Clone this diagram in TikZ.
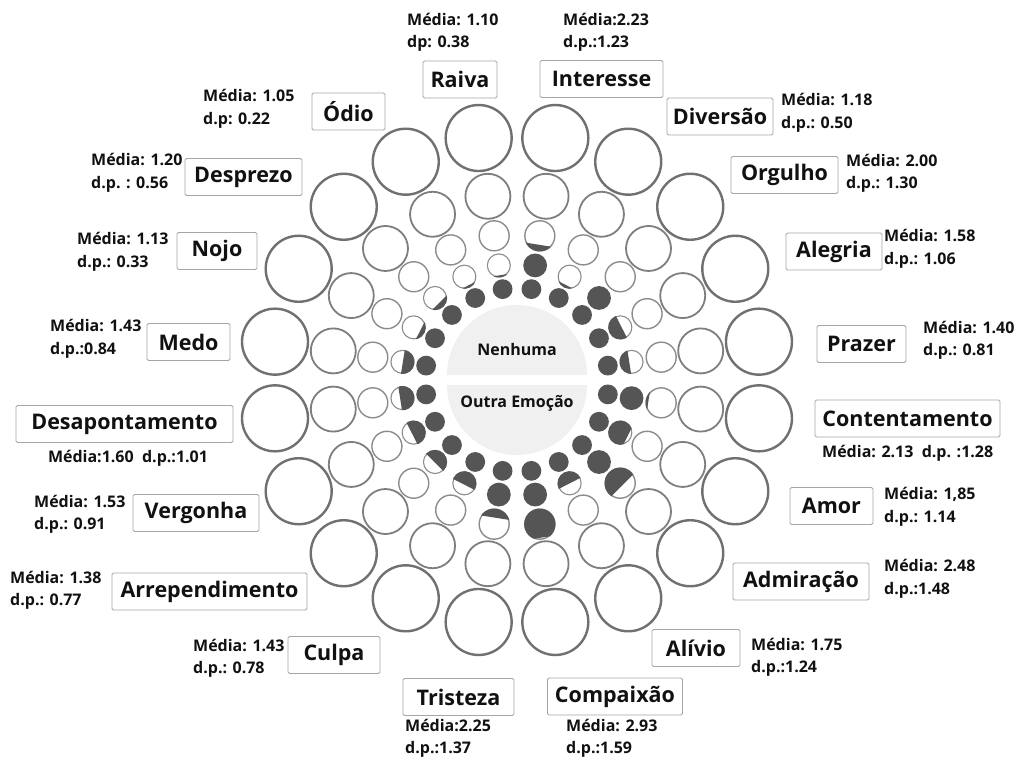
\documentclass[tikz,border=0pt]{standalone}
\usepackage{fontspec}
\setmainfont{Open Sans}
\definecolor{fillgray}{HTML}{555555}
\definecolor{ringgray}{HTML}{8C8C8C}
\definecolor{midgray}{HTML}{7E7E7E}
\definecolor{outergray}{HTML}{707070}
\definecolor{discgray}{HTML}{F0F0F0}
\definecolor{boxgray}{HTML}{A6A6A6}
\definecolor{inkblack}{HTML}{111111}

% one intensity circle: angle, distance, radius, fill level (0..1), outline style
\newcommand\gewcircle[5]{%
  \ifdim #4pt>0.995pt
    \fill[fillgray] (#1:#2) circle[radius=#3+0.4];
  \else
    \draw[#5, fill=white] (#1:#2) circle[radius=#3];
    \ifdim #4pt>0pt
      \begin{scope}[rotate=#1]
        \clip (#2,0) circle[radius=#3+0.7];
        \fill[fillgray] (#2-#3-2,-#3-2) rectangle (#2-#3+2*#3*#4,#3+2);
      \end{scope}
    \fi
  \fi
}

\tikzset{
  ringA/.style={draw=ringgray, line width=1.1pt},
  ringB/.style={draw=ringgray, line width=1.4pt},
  ringC/.style={draw=midgray, line width=1.8pt},
  ringD/.style={draw=outergray, line width=2.4pt},
  lbl/.style={draw=boxgray, line width=0.8pt, fill=white, rounded corners=1.5pt,
    minimum height=37, inner sep=0pt, text=inkblack,
    font=\fontsize{21.5}{24}\selectfont\bfseries},
  stat/.style={inner sep=0pt, align=left, anchor=west, text=inkblack,
    font=\fontsize{16}{22.5}\selectfont\bfseries},
  centretext/.style={inner sep=0pt, text=inkblack, font=\fontsize{16}{20}\selectfont\bfseries}
}

\begin{document}
\begin{tikzpicture}[x=1pt,y=1pt]
\useasboundingbox (-517,-378) rectangle (501,380);

% central disc split in two halves
\fill[discgray] (-70,5) arc[start angle=180,end angle=0,radius=70] -- cycle;
\fill[discgray] (-70,-5) arc[start angle=180,end angle=360,radius=70] -- cycle;
\node[centretext] (none) at (0,30) {Nenhuma};
\node[centretext] (other) at (0,-23) {Outra Emoção};

% twenty spokes of five circles each
\foreach \a/\fa/\fb/\fc in {
  81/1/1/0.2, 63/1/0.1/0, 45/1/1/0, 27/1/0.55/0, 9/1/0.4/0,
  -9/1/1/0.07, -27/1/0.85/0, -45/1/1/0.6, -63/1/0.5/0, -81/1/1/0.95,
  99/1/0.07/0, 117/1/0.08/0, 135/1/0.22/0, 153/1/0.18/0, 171/1/0.48/0,
  189/1/0.6/0, 207/1/0.58/0, 225/1/0.52/0, 243/1/0.55/0, 261/1/1/0.28}{
  \gewcircle{\a}{92}{9.5}{\fa}{ringA}
  \gewcircle{\a}{116}{11.5}{\fb}{ringA}
  \gewcircle{\a}{146}{15}{\fc}{ringB}
  \gewcircle{\a}{186}{22.5}{0}{ringC}
  \gewcircle{\a}{245}{33}{0}{ringD}
}

% emotion labels and statistics, placed in page coordinates
\begin{scope}[shift={(-517,380)}, y=-1pt]
  \node[lbl, minimum width=74]  (raiva)   at (460,79.5)  {Raiva};
  \node[lbl, minimum width=123] (interesse) at (601.5,79) {Interesse};
  \node[lbl, minimum width=73]  (odio)    at (348.5,111.5) {Ódio};
  \node[lbl, minimum width=106] (diversao) at (720,116.5) {Diversão};
  \node[lbl, minimum width=117] (desprezo) at (243.5,177) {Desprezo};
  \node[lbl, minimum width=107] (orgulho) at (784.5,175) {Orgulho};
  \node[lbl, minimum width=80]  (nojo)    at (217,251)   {Nojo};
  \node[lbl, minimum width=96]  (alegria) at (834,251.5) {Alegria};
  \node[lbl, minimum width=83]  (medo)    at (188.5,342) {Medo};
  \node[lbl, minimum width=89]  (prazer)  at (861.5,344) {Prazer};
  \node[lbl, minimum width=217] (desapont) at (124.5,424) {Desapontamento};
  \node[lbl, minimum width=185] (content) at (907.5,418.5) {Contentamento};
  \node[lbl, minimum width=126] (vergonha) at (196,513)  {Vergonha};
  \node[lbl, minimum width=83]  (amor)    at (831.5,506) {Amor};
  \node[lbl, minimum width=195] (arrepend) at (209.5,591.5) {Arrependimento};
  \node[lbl, minimum width=136] (admiracao) at (801,581.5) {Admiração};
  \node[lbl, minimum width=92]  (culpa)   at (334,655)   {Culpa};
  \node[lbl, minimum width=88]  (alivio)  at (696,648)   {Alívio};
  \node[lbl, minimum width=111] (tristeza) at (458.5,697) {Tristeza};
  \node[lbl, minimum width=135] (compaixao) at (615,696.5) {Compaixão};

  \node[stat] (s-raiva)    at (407,32.5)  {Média: 1.10\\dp: 0.38};
  \node[stat] (s-interesse) at (563,32.5) {Média:2.23\\d.p.:1.23};
  \node[stat] (s-odio)     at (203,109)   {Média: 1.05\\d.p: 0.22};
  \node[stat] (s-diversao) at (781,113)   {Média: 1.18\\d.p.: 0.50};
  \node[stat] (s-desprezo) at (91,173)    {Média: 1.20\\d.p. : 0.56};
  \node[stat] (s-orgulho)  at (846,173.5) {Média: 2.00\\d.p.: 1.30};
  \node[stat] (s-nojo)     at (77,252)    {Média: 1.13\\d.p.: 0.33};
  \node[stat] (s-alegria)  at (884,249)   {Média: 1.58\\d.p.: 1.06};
  \node[stat] (s-medo)     at (50,339)    {Média: 1.43\\d.p.:0.84};
  \node[stat] (s-prazer)   at (923,340.5) {Média: 1.40\\d.p.: 0.81};
  \node[stat, anchor=center] (s-desapont) at (128,458) {Média:1.60\ \ d.p.:1.01};
  \node[stat] (s-content)  at (822,453)   {Média: 2.13\ \ d.p. :1.28};
  \node[stat] (s-vergonha) at (34,514.5)  {Média: 1.53\\d.p.: 0.91};
  \node[stat] (s-amor)     at (884,507)   {Média: 1,85\\d.p.: 1.14};
  \node[stat] (s-arrepend) at (10,590.5)  {Média: 1.38\\d.p.: 0.77};
  \node[stat] (s-admiracao) at (884,579)  {Média: 2.48\\d.p.:1.48};
  \node[stat] (s-culpa)    at (193,658.5) {Média: 1.43\\d.p.: 0.78};
  \node[stat] (s-alivio)   at (751,657.5) {Média: 1.75\\d.p.:1.24};
  \node[stat] (s-tristeza) at (405,738.5) {Média:2.25\\d.p.:1.37};
  \node[stat] (s-compaixao) at (566,738.5) {Média: 2.93\\d.p.:1.59};
\end{scope}
\end{tikzpicture}
\end{document}
